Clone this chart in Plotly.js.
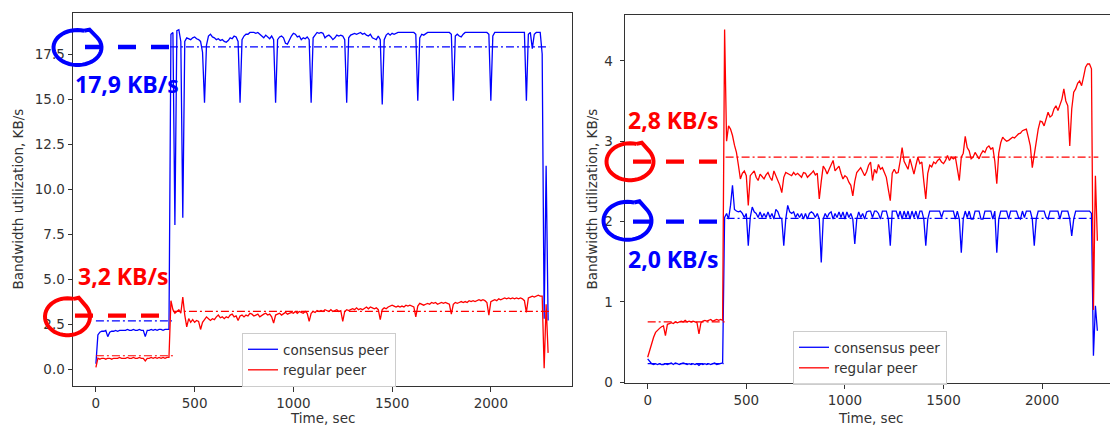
<!DOCTYPE html>
<html><head><meta charset="utf-8">
<script src="https://cdn.plot.ly/plotly-3.0.1.min.js"></script>
<style>html,body{margin:0;padding:0;background:#fff}#chart{width:1110px;height:428px}</style>
</head><body><div id="chart"></div>
<script>
// ---------- DATA ----------
const time = [
  0,10,20,30,40,50,60,70,80,90,
  100,110,120,130,140,150,160,170,180,190,
  200,210,220,230,240,250,260,270,280,290,
  300,310,320,330,340,350,360,370,380,390,
  400,410,420,430,440,450,460,470,480,490,
  500,510,520,530,540,550,560,570,580,590,
  600,610,620,630,640,650,660,670,680,690,
  700,710,720,730,740,750,760,770,780,790,
  800,810,820,830,840,850,860,870,880,890,
  900,910,920,930,940,950,960,970,980,990,
  1000,1010,1020,1030,1040,1050,1060,1070,1080,1090,
  1100,1110,1120,1130,1140,1150,1160,1170,1180,1190,
  1200,1210,1220,1230,1240,1250,1260,1270,1280,1290,
  1300,1310,1320,1330,1340,1350,1360,1370,1380,1390,
  1400,1410,1420,1430,1440,1450,1460,1470,1480,1490,
  1500,1510,1520,1530,1540,1550,1560,1570,1580,1590,
  1600,1610,1620,1630,1640,1650,1660,1670,1680,1690,
  1700,1710,1720,1730,1740,1750,1760,1770,1780,1790,
  1800,1810,1820,1830,1840,1850,1860,1870,1880,1890,
  1900,1910,1920,1930,1940,1950,1960,1970,1980,1990,
  2000,2010,2020,2030,2040,2050,2060,2070,2080,2090,
  2100,2110,2120,2130,2140,2150,2160,2170,2180,2190,
  2200,2210,2220,2230,2240,2250,2260,2270,2280,2290
];

// left chart (KB/s)
const leftConsensus = [
  0.3,1.9,2.05,2.1,2.1,2.15,1.8,2.05,2.1,2.1,
  2.15,2.1,2.15,2.15,2.15,2.15,2.2,2.15,2.15,2.2,
  2.15,2.15,2.2,2.15,2.15,1.8,2.15,2.15,2.2,2.15,
  2.2,2.15,2.2,2.2,2.15,2.2,2.2,2.2,18.6,18.7,
  8.0,18.8,18.85,18.2,8.4,18.2,18.4,18.35,18.3,18.4,
  18.45,18.35,18.3,18.2,17.6,14.8,18.0,18.5,18.6,18.45,
  18.4,18.3,18.35,18.25,18.3,18.2,18.15,18.25,18.4,18.35,
  18.5,18.45,18.2,14.8,18.3,18.5,18.6,18.6,18.7,18.7,
  18.7,18.65,18.7,18.6,18.5,18.4,18.55,18.45,18.35,18.5,
  18.3,14.8,18.3,18.45,18.5,18.4,18.1,18.05,18.3,18.5,
  18.65,18.6,18.45,18.5,18.3,18.4,18.35,18.45,18.3,14.8,
  18.4,18.55,18.7,18.65,18.7,18.65,18.4,18.5,18.55,18.45,
  18.3,18.4,18.55,18.5,18.55,18.5,18.3,14.8,18.4,18.55,
  18.6,18.65,18.6,18.65,18.7,18.6,18.65,18.55,18.5,18.6,
  18.4,18.35,18.3,18.5,18.3,14.7,18.3,18.55,18.65,18.55,
  18.65,18.6,18.65,18.7,18.7,18.7,18.7,18.7,18.7,18.7,
  18.7,18.7,18.6,14.9,18.4,18.6,18.55,18.65,18.7,18.7,
  18.7,18.7,18.7,18.7,18.7,18.7,18.7,18.7,18.7,18.7,
  18.6,14.9,18.5,18.6,18.5,18.45,18.6,18.7,18.7,18.7,
  18.7,18.7,18.7,18.7,18.7,18.7,18.7,18.7,18.7,18.6,
  14.9,18.5,18.7,18.7,18.7,18.7,18.7,18.7,18.7,18.7,
  18.7,18.7,18.7,18.7,18.7,18.7,18.7,18.7,14.9,18.6,
  18.7,17.8,18.6,18.7,18.7,18.7,17.5,2.8,11.3,2.7
];
const leftRegular = [
  0.1,0.6,0.55,0.6,0.6,0.55,0.6,0.6,0.55,0.6,
  0.6,0.6,0.65,0.6,0.6,0.6,0.65,0.6,0.6,0.65,
  0.6,0.6,0.65,0.6,0.6,0.45,0.6,0.6,0.65,0.6,
  0.65,0.6,0.65,0.6,0.65,0.6,0.65,0.65,3.8,3.3,
  3.1,3.2,3.3,3.1,4.0,3.0,2.35,2.8,2.6,2.75,
  2.6,2.7,2.65,2.2,2.6,2.75,2.9,2.8,2.7,2.8,
  2.75,2.9,3.0,2.85,2.9,2.8,2.9,2.85,3.0,3.05,
  2.9,2.95,2.7,2.95,3.0,2.9,3.0,2.95,3.1,3.05,
  2.95,3.0,3.05,2.9,3.0,3.05,3.1,3.0,3.05,2.9,
  2.55,3.0,3.05,3.1,3.0,3.1,3.15,3.05,3.1,3.15,
  3.1,3.2,3.1,3.2,3.15,3.1,3.2,3.1,2.65,3.1,
  3.2,3.15,3.25,3.2,3.25,3.2,3.3,3.25,3.2,3.3,
  3.2,3.25,3.3,3.2,3.25,2.65,3.2,3.3,3.25,3.3,
  3.35,3.3,3.4,3.3,3.35,3.3,3.4,3.45,3.35,3.45,
  3.4,3.35,3.4,3.3,2.75,3.3,3.4,3.35,3.45,3.5,
  3.55,3.5,3.45,3.5,3.45,3.5,3.45,3.55,3.5,3.55,
  3.5,3.45,2.9,3.5,3.65,3.6,3.55,3.6,3.65,3.6,
  3.7,3.65,3.7,3.6,3.65,3.7,3.65,3.7,3.65,3.6,
  3.05,3.6,3.7,3.65,3.7,3.75,3.7,3.75,3.7,3.8,
  3.75,3.8,3.75,3.8,3.85,3.8,3.85,3.8,3.7,3.0,
  3.75,3.8,3.85,3.8,3.9,3.85,3.9,3.95,3.9,3.95,
  3.9,3.95,3.9,3.95,3.9,3.95,3.9,3.8,3.15,3.95,
  4.0,4.05,4.0,4.05,4.1,4.05,4.05,0.05,3.6,0.9
];

// right chart (KB/s)
const rightConsensus = [
  0.29,0.26,0.23,0.22,0.23,0.22,0.23,0.22,0.22,0.23,
  0.22,0.23,0.24,0.22,0.24,0.23,0.22,0.23,0.24,0.23,
  0.22,0.23,0.22,0.23,0.22,0.23,0.21,0.23,0.22,0.23,
  0.22,0.23,0.22,0.23,0.24,0.22,0.23,0.23,0.24,2.05,
  2.1,2.03,2.2,2.45,2.15,2.13,2.12,2.13,2.1,2.05,
  2.1,1.7,2.05,2.18,2.12,2.1,2.05,2.12,2.05,2.1,
  2.05,2.12,2.05,2.1,2.03,2.15,2.12,2.05,2.03,1.7,
  2.03,2.2,2.12,2.1,2.12,2.05,2.1,2.05,2.1,2.03,
  2.1,2.03,2.1,2.12,2.1,2.05,2.1,2.03,1.49,2.03,
  2.1,2.05,2.1,2.12,2.03,2.1,2.05,2.12,2.05,2.12,
  2.03,2.12,2.05,2.1,2.03,1.72,2.03,2.12,2.05,2.1,
  2.03,2.12,2.13,2.13,2.05,2.13,2.13,2.1,2.03,2.13,
  2.13,2.13,2.03,1.7,2.13,2.13,2.13,2.05,2.13,2.03,
  2.13,2.05,2.13,2.03,2.13,2.05,2.13,2.03,2.13,2.13,
  2.03,1.7,2.03,2.13,2.13,2.13,2.13,2.13,2.13,2.05,
  2.13,2.13,2.13,2.13,2.13,2.13,2.03,2.13,2.03,1.61,
  2.03,2.13,2.05,2.13,2.03,2.03,2.13,2.13,2.13,2.03,
  2.03,2.13,2.13,2.13,2.13,2.03,2.13,1.61,2.03,2.13,
  2.13,2.13,2.13,2.03,2.13,2.13,2.13,2.13,2.05,2.03,
  2.13,2.05,2.13,2.13,2.13,2.03,1.7,2.03,2.13,2.13,
  2.13,2.13,2.05,2.03,2.13,2.13,2.13,2.13,2.13,2.03,
  2.13,2.13,2.13,2.13,2.03,1.82,2.03,2.13,2.13,2.13,
  2.13,2.13,2.13,2.13,2.13,2.1,0.33,0.95,0.64,null
];
const rightRegular = [
  0.31,0.4,0.5,0.56,0.62,0.65,0.67,0.69,0.7,0.58,
  0.72,0.73,0.74,0.73,0.75,0.74,0.75,0.76,0.75,0.77,
  0.75,0.76,0.75,0.76,0.75,0.74,0.6,0.74,0.76,0.77,
  0.76,0.77,0.78,0.76,0.77,0.78,0.77,0.78,0.77,4.39,
  3.0,3.19,3.15,3.07,2.95,2.86,2.7,2.53,2.6,2.63,
  2.57,2.2,2.57,2.6,2.63,2.55,2.51,2.59,2.56,2.53,
  2.58,2.61,2.55,2.51,2.63,2.57,2.49,2.45,2.36,2.55,
  2.61,2.6,2.59,2.57,2.61,2.58,2.6,2.57,2.55,2.61,
  2.6,2.55,2.57,2.6,2.63,2.58,2.6,2.28,2.5,2.69,
  2.65,2.59,2.65,2.7,2.76,2.63,2.66,2.69,2.6,2.53,
  2.57,2.55,2.49,2.45,2.32,2.5,2.61,2.64,2.67,2.62,
  2.57,2.62,2.7,2.74,2.51,2.65,2.6,2.71,2.65,2.67,
  2.62,2.55,2.4,2.26,2.6,2.65,2.6,2.61,2.75,2.92,
  2.75,2.7,2.65,2.78,2.7,2.59,2.7,2.8,2.72,2.74,
  2.5,2.28,2.6,2.7,2.68,2.74,2.72,2.76,2.78,2.74,
  2.72,2.76,2.82,2.76,2.8,2.78,2.8,2.65,2.51,2.8,
  2.85,3.06,2.92,2.88,2.78,2.8,2.86,2.82,2.78,2.84,
  2.88,2.86,2.92,2.94,2.9,2.92,2.75,2.47,2.85,2.98,
  3.05,3.02,3.0,3.01,3.03,3.05,3.04,3.07,3.09,3.1,
  3.13,3.14,3.15,3.05,2.94,2.67,2.85,3.03,3.15,3.25,
  3.24,3.19,3.28,3.36,3.3,3.32,3.4,3.44,3.38,3.46,
  3.52,3.65,3.5,3.44,2.94,3.4,3.61,3.65,3.72,3.75,
  3.69,3.8,3.92,3.96,3.96,3.9,0.9,2.57,1.76,null
];

// phase means (dash-dot lines): value and time span of each phase
const leftConsensusMeans = [2.68, 17.9];
const leftRegularMeans = [0.74, 3.2];
const leftConsensusSpans = [[0, 385], [375, 2295]];
const leftRegularSpans = [[0, 390], [390, 2295]];
const rightConsensusMeans = [0.23, 2.04];
const rightRegularMeans = [0.75, 2.8];
const rightConsensusSpans = [[0, 385], [400, 2250]];
const rightRegularSpans = [[0, 390], [395, 2285]];

const seriesNames = ['consensus peer', 'regular peer'];
const calloutLabels = ['17,9 KB/s', '3,2 KB/s', '2,8 KB/s', '2,0 KB/s'];
const xTicks = [0, 500, 1000, 1500, 2000];
const leftYTicks = [0, 2.5, 5, 7.5, 10, 12.5, 15, 17.5];
const rightYTicks = [0, 1, 2, 3, 4];

// ---------- STYLE / LAYOUT ----------
const W = 1110, H = 428;
const BLUE = '#0000ff', RED = '#ff0000';
const FONT = 'DejaVu Sans';
const px = x => x / W;
const py = y => 1 - y / H;

const traces = [];
function series(x, y, color, name, xa, ya, lg) {
  traces.push({x, y, type: 'scatter', mode: 'lines', name, xaxis: xa, yaxis: ya,
    legend: lg, line: {color, width: 1.3}, hoverinfo: 'skip'});
}
function means(vals, spans, color, xa, ya) {
  vals.forEach((v, i) => {
    traces.push({x: spans[i], y: [v, v], type: 'scatter', mode: 'lines', xaxis: xa, yaxis: ya,
      showlegend: false, line: {color, width: 1.2, dash: '8px,3px,2px,3px'}, hoverinfo: 'skip'});
  });
}
series(time, leftConsensus, BLUE, seriesNames[0], 'x', 'y', 'legend');
series(time, leftRegular, RED, seriesNames[1], 'x', 'y', 'legend');
series(time, rightConsensus, BLUE, seriesNames[0], 'x2', 'y2', 'legend2');
series(time, rightRegular, RED, seriesNames[1], 'x2', 'y2', 'legend2');
means(leftConsensusMeans, leftConsensusSpans, BLUE, 'x', 'y');
means(leftRegularMeans, leftRegularSpans, RED, 'x', 'y');
means(rightConsensusMeans, rightConsensusSpans, BLUE, 'x2', 'y2');
means(rightRegularMeans, rightRegularSpans, RED, 'x2', 'y2');

const axisBase = {showline: true, linecolor: '#333', linewidth: 1, ticks: 'outside', ticklen: 4.5,
  tickwidth: 1, tickcolor: '#333', showgrid: false, zeroline: false,
  tickfont: {family: FONT, size: 13.5, color: '#333'}, fixedrange: true};

// hand-drawn loop with a small hook at the top right, pixel space -> paper path
function loopPath(cx, cy, rx, ry) {
  const pts = [];
  for (let d = 74; d <= 400; d += 8) {
    const a = d * Math.PI / 180;
    pts.push([cx + rx * Math.cos(a), cy - ry * Math.sin(a)]);
  }
  const sa = 64 * Math.PI / 180;
  pts.push([cx + 1.14 * rx * Math.cos(sa), cy - 1.14 * ry * Math.sin(sa)]);
  const ea = 74 * Math.PI / 180;
  pts.push([cx + rx * Math.cos(ea), cy - ry * Math.sin(ea)]);
  return 'M ' + pts.map(p => px(p[0]).toFixed(5) + ',' + py(p[1]).toFixed(5)).join(' L ');
}
const callouts = [
  {c: BLUE, cx: 77.5, cy: 47.5, rx: 24, ry: 17.5, dx0: 85, dx1: 170, dy: 47, tx: 73, ty: 84},
  {c: RED, cx: 67.5, cy: 316.7, rx: 22.5, ry: 18.5, dx0: 75, dx1: 162, dy: 315.7, tx: 76, ty: 276},
  {c: RED, cx: 630, cy: 161.7, rx: 23.5, ry: 18.5, dx0: 633, dx1: 722, dy: 161.7, tx: 626, ty: 120},
  {c: BLUE, cx: 627.5, cy: 220.8, rx: 24, ry: 19, dx0: 633, dx1: 723, dy: 221.7, tx: 626, ty: 259}
];
const shapes = [], annotations = [];
callouts.forEach((o, i) => {
  shapes.push({type: 'path', xref: 'paper', yref: 'paper', layer: 'above',
    path: loopPath(o.cx, o.cy, o.rx, o.ry), line: {color: o.c, width: 4}});
  shapes.push({type: 'line', xref: 'paper', yref: 'paper', layer: 'above',
    x0: px(o.dx0), x1: px(o.dx1), y0: py(o.dy), y1: py(o.dy),
    line: {color: o.c, width: 4.3, dash: '18px,15px'}});
  annotations.push({xref: 'paper', yref: 'paper', x: px(o.tx), y: py(o.ty), xanchor: 'left', yanchor: 'middle',
    showarrow: false, text: '<b>' + calloutLabels[i] + '</b>',
    font: {family: 'Open Sans', size: 23, color: o.c}});
});
const titleFont = {family: FONT, size: 13.5, color: '#333'};
[[17, 199.5, -90, 'Bandwidth utilization, KB/s'], [591.5, 199, -90, 'Bandwidth utilization, KB/s'],
 [322, 418, 0, 'Time, sec'], [870.5, 418, 0, 'Time, sec']].forEach(a => {
  annotations.push({xref: 'paper', yref: 'paper', x: px(a[0]), y: py(a[1]), xanchor: 'center', yanchor: 'middle',
    showarrow: false, text: a[3], textangle: a[2], font: titleFont});
});

const legendBase = {xanchor: 'left', yanchor: 'top', bordercolor: '#cccccc', borderwidth: 1,
  bgcolor: 'rgba(255,255,255,0.8)', font: {family: FONT, size: 13.5, color: '#333'}, itemwidth: 30};

const layout = {
  width: W, height: H, margin: {l: 0, r: 0, t: 0, b: 0},
  paper_bgcolor: '#fff', plot_bgcolor: '#fff', showlegend: true,
  xaxis: Object.assign({}, axisBase, {domain: [px(73), px(572)], range: [-116, 2411], tickvals: xTicks, mirror: true, anchor: 'y'}),
  yaxis: Object.assign({}, axisBase, {domain: [py(386), py(13)], range: [-0.94, 19.78], tickvals: leftYTicks, tickformat: '.1f', mirror: true, anchor: 'x'}),
  xaxis2: Object.assign({}, axisBase, {domain: [px(625), 1], range: [-115, 2344], tickvals: xTicks, mirror: true, anchor: 'y2'}),
  yaxis2: Object.assign({}, axisBase, {domain: [py(383), py(15)], range: [-0.01, 4.57], tickvals: rightYTicks, mirror: false, anchor: 'x2', ticklabelstandoff: 4}),
  legend: Object.assign({}, legendBase, {x: px(242), y: py(333)}),
  legend2: Object.assign({}, legendBase, {x: px(793), y: py(331)}),
  shapes, annotations
};
Plotly.newPlot('chart', traces, layout, {displayModeBar: false, staticPlot: true});
</script>
</body></html>
